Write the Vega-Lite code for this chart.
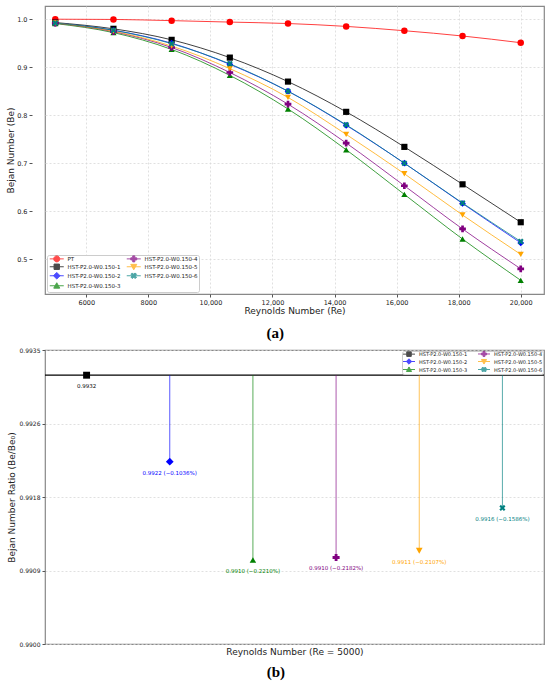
{
  "$schema": "https://vega.github.io/schema/vega-lite/v6.json",
  "background": "white",
  "padding": {"left": 6, "top": 5, "right": 6, "bottom": 0},
  "columns": 1,
  "spacing": 4,
  "datasets": {
    "top": [
      {"series": "PT", "re": 5000, "be": 1.000}, {"series": "PT", "re": 6875, "be": 0.9995}, {"series": "PT", "re": 8750, "be": 0.997}, {"series": "PT", "re": 10625, "be": 0.994}, {"series": "PT", "re": 12500, "be": 0.991}, {"series": "PT", "re": 14375, "be": 0.985}, {"series": "PT", "re": 16250, "be": 0.976}, {"series": "PT", "re": 18125, "be": 0.965}, {"series": "PT", "re": 20000, "be": 0.951},
      {"series": "HST-P2.0-W0.150-1", "re": 5000, "be": 0.993}, {"series": "HST-P2.0-W0.150-1", "re": 6875, "be": 0.980}, {"series": "HST-P2.0-W0.150-1", "re": 8750, "be": 0.957}, {"series": "HST-P2.0-W0.150-1", "re": 10625, "be": 0.920}, {"series": "HST-P2.0-W0.150-1", "re": 12500, "be": 0.870}, {"series": "HST-P2.0-W0.150-1", "re": 14375, "be": 0.807}, {"series": "HST-P2.0-W0.150-1", "re": 16250, "be": 0.734}, {"series": "HST-P2.0-W0.150-1", "re": 18125, "be": 0.656}, {"series": "HST-P2.0-W0.150-1", "re": 20000, "be": 0.577},
      {"series": "HST-P2.0-W0.150-2", "re": 5000, "be": 0.992}, {"series": "HST-P2.0-W0.150-2", "re": 6875, "be": 0.977}, {"series": "HST-P2.0-W0.150-2", "re": 8750, "be": 0.950}, {"series": "HST-P2.0-W0.150-2", "re": 10625, "be": 0.906}, {"series": "HST-P2.0-W0.150-2", "re": 12500, "be": 0.850}, {"series": "HST-P2.0-W0.150-2", "re": 14375, "be": 0.779}, {"series": "HST-P2.0-W0.150-2", "re": 16250, "be": 0.700}, {"series": "HST-P2.0-W0.150-2", "re": 18125, "be": 0.616}, {"series": "HST-P2.0-W0.150-2", "re": 20000, "be": 0.534},
      {"series": "HST-P2.0-W0.150-3", "re": 5000, "be": 0.991}, {"series": "HST-P2.0-W0.150-3", "re": 6875, "be": 0.972}, {"series": "HST-P2.0-W0.150-3", "re": 8750, "be": 0.937}, {"series": "HST-P2.0-W0.150-3", "re": 10625, "be": 0.883}, {"series": "HST-P2.0-W0.150-3", "re": 12500, "be": 0.813}, {"series": "HST-P2.0-W0.150-3", "re": 14375, "be": 0.728}, {"series": "HST-P2.0-W0.150-3", "re": 16250, "be": 0.635}, {"series": "HST-P2.0-W0.150-3", "re": 18125, "be": 0.542}, {"series": "HST-P2.0-W0.150-3", "re": 20000, "be": 0.456},
      {"series": "HST-P2.0-W0.150-4", "re": 5000, "be": 0.992}, {"series": "HST-P2.0-W0.150-4", "re": 6875, "be": 0.974}, {"series": "HST-P2.0-W0.150-4", "re": 8750, "be": 0.941}, {"series": "HST-P2.0-W0.150-4", "re": 10625, "be": 0.889}, {"series": "HST-P2.0-W0.150-4", "re": 12500, "be": 0.823}, {"series": "HST-P2.0-W0.150-4", "re": 14375, "be": 0.742}, {"series": "HST-P2.0-W0.150-4", "re": 16250, "be": 0.653}, {"series": "HST-P2.0-W0.150-4", "re": 18125, "be": 0.563}, {"series": "HST-P2.0-W0.150-4", "re": 20000, "be": 0.480},
      {"series": "HST-P2.0-W0.150-5", "re": 5000, "be": 0.992}, {"series": "HST-P2.0-W0.150-5", "re": 6875, "be": 0.975}, {"series": "HST-P2.0-W0.150-5", "re": 8750, "be": 0.944}, {"series": "HST-P2.0-W0.150-5", "re": 10625, "be": 0.897}, {"series": "HST-P2.0-W0.150-5", "re": 12500, "be": 0.837}, {"series": "HST-P2.0-W0.150-5", "re": 14375, "be": 0.760}, {"series": "HST-P2.0-W0.150-5", "re": 16250, "be": 0.678}, {"series": "HST-P2.0-W0.150-5", "re": 18125, "be": 0.592}, {"series": "HST-P2.0-W0.150-5", "re": 20000, "be": 0.510},
      {"series": "HST-P2.0-W0.150-6", "re": 5000, "be": 0.992}, {"series": "HST-P2.0-W0.150-6", "re": 6875, "be": 0.977}, {"series": "HST-P2.0-W0.150-6", "re": 8750, "be": 0.949}, {"series": "HST-P2.0-W0.150-6", "re": 10625, "be": 0.907}, {"series": "HST-P2.0-W0.150-6", "re": 12500, "be": 0.850}, {"series": "HST-P2.0-W0.150-6", "re": 14375, "be": 0.780}, {"series": "HST-P2.0-W0.150-6", "re": 16250, "be": 0.700}, {"series": "HST-P2.0-W0.150-6", "re": 18125, "be": 0.617}, {"series": "HST-P2.0-W0.150-6", "re": 20000, "be": 0.537}
    ],
    "bot": [
      {"series": "HST-P2.0-W0.150-1", "ratio": 0.99320, "ref": 0.9932, "label": "0.9932"},
      {"series": "HST-P2.0-W0.150-2", "ratio": 0.99217, "ref": 0.9932, "label": "0.9922 (−0.1036%)"},
      {"series": "HST-P2.0-W0.150-3", "ratio": 0.99100, "ref": 0.9932, "label": "0.9910 (−0.2210%)"},
      {"series": "HST-P2.0-W0.150-4", "ratio": 0.99103, "ref": 0.9932, "label": "0.9910 (−0.2182%)"},
      {"series": "HST-P2.0-W0.150-5", "ratio": 0.99111, "ref": 0.9932, "label": "0.9911 (−0.2107%)"},
      {"series": "HST-P2.0-W0.150-6", "ratio": 0.99162, "ref": 0.9932, "label": "0.9916 (−0.1586%)"}
    ]
  },
  "resolve": {
    "scale": {"color": "independent", "shape": "independent", "stroke": "independent", "x": "independent", "y": "independent"},
    "legend": {"color": "independent", "shape": "independent", "stroke": "independent"}
  },
  "concat": [
    {
      "width": 499,
      "height": 288,
      "title": {"text": "(a)", "orient": "bottom", "font": "Liberation Serif", "fontSize": 15, "fontWeight": "bold", "anchor": "middle", "frame": "bounds", "offset": 10, "color": "black"},
      "data": {"name": "top"},
      "encoding": {
        "x": {"field": "re", "type": "quantitative", "scale": {"domain": [4669, 20750], "nice": false, "zero": false},
          "axis": {"title": "Reynolds Number (Re)", "values": [6000, 8000, 10000, 12000, 14000, 16000, 18000, 20000], "labelExpr": "datum.value < 10000 ? format(datum.value, 'd') : format(datum.value, ',')", "labelFontSize": 6.5, "titleFontSize": 9, "titlePadding": 1, "labelPadding": 2, "grid": true}},
        "y": {"field": "be", "type": "quantitative", "scale": {"domain": [0.4275, 1.0275], "nice": false, "zero": false},
          "axis": {"title": "Bejan Number (Be)", "values": [0.5, 0.6, 0.7, 0.8, 0.9, 1.0], "format": ".1f", "labelFontSize": 6.5, "titleFontSize": 9, "titlePadding": 1, "labelPadding": 2, "offset": 13, "grid": true}}
      },
      "layer": [
        {"mark": {"type": "line", "interpolate": "monotone", "strokeWidth": 1, "opacity": 0.75},
         "encoding": {"color": {"field": "series", "type": "nominal", "title": null,
           "scale": {"domain": ["PT", "HST-P2.0-W0.150-1", "HST-P2.0-W0.150-2", "HST-P2.0-W0.150-3", "HST-P2.0-W0.150-4", "HST-P2.0-W0.150-5", "HST-P2.0-W0.150-6"],
                     "range": ["#ff0000", "#000000", "#0000ff", "#008000", "#800080", "#ffa500", "#008080"]},
           "legend": {"title": null, "orient": "bottom-left", "offset": 2, "columns": 2, "labelFontSize": 5.5, "labelFont": "DejaVu Sans", "labelColor": "#222",
             "symbolSize": 16, "symbolOffset": 6, "labelOffset": 8, "rowPadding": -2, "columnPadding": 3, "padding": 1, "symbolOpacity": 1, "symbolStrokeWidth": 1,
             "fillColor": "white", "strokeColor": "#ccc", "cornerRadius": 2}}}},
        {"mark": {"type": "point", "filled": true, "size": 0, "strokeWidth": 1},
         "encoding": {
           "color": {"field": "series", "type": "nominal", "title": null},
           "stroke": {"field": "series", "type": "nominal", "title": null,
             "scale": {"domain": ["PT", "HST-P2.0-W0.150-1", "HST-P2.0-W0.150-2", "HST-P2.0-W0.150-3", "HST-P2.0-W0.150-4", "HST-P2.0-W0.150-5", "HST-P2.0-W0.150-6"],
                       "range": ["#ff0000", "#000000", "#0000ff", "#008000", "#800080", "#ffa500", "#008080"]}},
           "shape": {"field": "series", "type": "nominal", "title": null,
             "scale": {"domain": ["PT", "HST-P2.0-W0.150-1", "HST-P2.0-W0.150-2", "HST-P2.0-W0.150-3", "HST-P2.0-W0.150-4", "HST-P2.0-W0.150-5", "HST-P2.0-W0.150-6"],
                       "range": ["M-3.5,0H3.5M-1.5,0A1.5,1.5,0,1,0,1.5,0A1.5,1.5,0,1,0,-1.5,0Z", "M-3.5,0H3.5M-1.35,-1.35H1.35V1.35H-1.35Z", "M-3.5,0H3.5M0,-1.65L1.65,0L0,1.65L-1.65,0Z", "M-3.5,0H3.5M0,-1.5L1.5,1.2H-1.5Z", "M-3.5,0H3.5M-0.52,-1.5H0.52V-0.52H1.5V0.52H0.52V1.5H-0.52V0.52H-1.5V-0.52H-0.52Z", "M-3.5,0H3.5M0,1.5L1.5,-1.2H-1.5Z", "M-3.5,0H3.5M0.7,-1.41L1.41,-0.7L0.7,0L1.41,0.7L0.7,1.41L0,0.7L-0.7,1.41L-1.41,0.7L-0.7,0L-1.41,-0.7L-0.7,-1.41L0,-0.7Z"]}}
         }},
        {"transform": [{"filter": {"field": "series", "equal": "PT"}}], "mark": {"type": "point", "filled": true, "opacity": 1, "size": 42, "shape": "circle", "color": "#ff0000"}},
        {"transform": [{"filter": {"field": "series", "equal": "HST-P2.0-W0.150-1"}}], "mark": {"type": "point", "filled": true, "opacity": 1, "size": 38, "shape": "square", "color": "#000000"}},
        {"transform": [{"filter": {"field": "series", "equal": "HST-P2.0-W0.150-2"}}], "mark": {"type": "point", "filled": true, "opacity": 1, "size": 45, "shape": "diamond", "color": "#0000ff"}},
        {"transform": [{"filter": {"field": "series", "equal": "HST-P2.0-W0.150-3"}}], "mark": {"type": "point", "filled": true, "opacity": 1, "size": 38, "shape": "triangle-up", "color": "#008000"}},
        {"transform": [{"filter": {"field": "series", "equal": "HST-P2.0-W0.150-4"}}], "mark": {"type": "point", "filled": true, "opacity": 1, "size": 45, "shape": "cross", "color": "#800080"}},
        {"transform": [{"filter": {"field": "series", "equal": "HST-P2.0-W0.150-5"}}], "mark": {"type": "point", "filled": true, "opacity": 1, "size": 38, "shape": "triangle-down", "color": "#ffa500"}},
        {"transform": [{"filter": {"field": "series", "equal": "HST-P2.0-W0.150-6"}}], "mark": {"type": "point", "filled": true, "opacity": 1, "size": 40, "shape": "M0.47,-0.94L0.94,-0.47L0.47,0L0.94,0.47L0.47,0.94L0,0.47L-0.47,0.94L-0.94,0.47L-0.47,0L-0.94,-0.47L-0.47,-0.94L0,-0.47Z", "color": "#008080"}}
      ]
    },
    {
      "width": 499,
      "height": 294,
      "title": {"text": "(b)", "orient": "bottom", "font": "Liberation Serif", "fontSize": 15, "fontWeight": "bold", "anchor": "middle", "frame": "bounds", "offset": 9, "color": "black"},
      "layer": [
        {"data": {"values": [{"ref": 0.9932}]},
         "mark": {"type": "rule", "color": "black", "strokeWidth": 1.2},
         "encoding": {"y": {"field": "ref", "type": "quantitative", "title": "Bejan Number Ratio (Be/Be₀)",
           "scale": {"domain": [0.99, 0.9935], "nice": false, "zero": false},
           "axis": {"values": [0.99, 0.990875, 0.99175, 0.992625, 0.9935], "labelExpr": "format(datum.value + 1e-9, '.4f')", "labelFontSize": 6, "titleFontSize": 9, "titlePadding": 3, "labelPadding": 2, "grid": true}}}},
        {"data": {"name": "bot"},
         "mark": {"type": "rule", "strokeWidth": 1, "opacity": 0.65},
         "encoding": {
           "x": {"field": "series", "type": "nominal", "title": "Reynolds Number (Re = 5000)",
             "scale": {"type": "point", "padding": 0.5, "domain": ["HST-P2.0-W0.150-1", "HST-P2.0-W0.150-2", "HST-P2.0-W0.150-3", "HST-P2.0-W0.150-4", "HST-P2.0-W0.150-5", "HST-P2.0-W0.150-6"]},
             "axis": {"labels": false, "ticks": false, "domain": false, "grid": false, "titleFontSize": 9, "titlePadding": 3}},
           "y": {"field": "ratio", "type": "quantitative", "title": "Bejan Number Ratio (Be/Be₀)"},
           "y2": {"field": "ref"},
           "color": {"field": "series", "type": "nominal", "title": null,
             "scale": {"domain": ["HST-P2.0-W0.150-1", "HST-P2.0-W0.150-2", "HST-P2.0-W0.150-3", "HST-P2.0-W0.150-4", "HST-P2.0-W0.150-5", "HST-P2.0-W0.150-6"],
                       "range": ["#000000", "#0000ff", "#008000", "#800080", "#ffa500", "#008080"]},
             "legend": {"title": null, "orient": "top-right", "offset": 1, "columns": 2, "labelFontSize": 5, "labelFont": "DejaVu Sans", "labelColor": "#222",
               "symbolSize": 9, "symbolOffset": 4.5, "labelOffset": 7.5, "rowPadding": -4, "columnPadding": 8, "padding": 0, "symbolOpacity": 1, "symbolStrokeWidth": 1,
               "fillColor": "white", "strokeColor": "#ccc", "cornerRadius": 2}}
         }},
        {"data": {"name": "bot"},
         "mark": {"type": "point", "filled": true, "size": 0, "strokeWidth": 1},
         "encoding": {
           "x": {"field": "series", "type": "nominal"},
           "y": {"field": "ratio", "type": "quantitative", "title": "Bejan Number Ratio (Be/Be₀)"},
           "color": {"field": "series", "type": "nominal", "title": null},
           "stroke": {"field": "series", "type": "nominal", "title": null,
             "scale": {"domain": ["HST-P2.0-W0.150-1", "HST-P2.0-W0.150-2", "HST-P2.0-W0.150-3", "HST-P2.0-W0.150-4", "HST-P2.0-W0.150-5", "HST-P2.0-W0.150-6"],
                       "range": ["#000000", "#0000ff", "#008000", "#800080", "#ffa500", "#008080"]}},
           "shape": {"field": "series", "type": "nominal", "title": null,
             "scale": {"domain": ["HST-P2.0-W0.150-1", "HST-P2.0-W0.150-2", "HST-P2.0-W0.150-3", "HST-P2.0-W0.150-4", "HST-P2.0-W0.150-5", "HST-P2.0-W0.150-6"],
                       "range": ["M-4,0H4M-1.5,-1.5H1.5V1.5H-1.5Z", "M-4,0H4M0,-1.8L1.8,0L0,1.8L-1.8,0Z", "M-4,0H4M0,-1.7L1.7,1.35H-1.7Z", "M-4,0H4M-0.6,-1.7H0.6V-0.6H1.7V0.6H0.6V1.7H-0.6V0.6H-1.7V-0.6H-0.6Z", "M-4,0H4M0,1.7L1.7,-1.35H-1.7Z", "M-4,0H4M0.8,-1.6L1.6,-0.8L0.8,0L1.6,0.8L0.8,1.6L0,0.8L-0.8,1.6L-1.6,0.8L-0.8,0L-1.6,-0.8L-0.8,-1.6L0,-0.8Z"]}}
         }},
        {"data": {"name": "bot"}, "transform": [{"filter": {"field": "series", "equal": "HST-P2.0-W0.150-1"}}], "mark": {"type": "point", "filled": true, "opacity": 1, "size": 48, "shape": "square", "color": "#000000"},
         "encoding": {"x": {"field": "series", "type": "nominal"}, "y": {"field": "ratio", "type": "quantitative", "title": "Bejan Number Ratio (Be/Be₀)"}}},
        {"data": {"name": "bot"}, "transform": [{"filter": {"field": "series", "equal": "HST-P2.0-W0.150-2"}}], "mark": {"type": "point", "filled": true, "opacity": 1, "size": 60, "shape": "diamond", "color": "#0000ff"},
         "encoding": {"x": {"field": "series", "type": "nominal"}, "y": {"field": "ratio", "type": "quantitative", "title": "Bejan Number Ratio (Be/Be₀)"}}},
        {"data": {"name": "bot"}, "transform": [{"filter": {"field": "series", "equal": "HST-P2.0-W0.150-3"}}], "mark": {"type": "point", "filled": true, "opacity": 1, "size": 42, "shape": "triangle-up", "color": "#008000"},
         "encoding": {"x": {"field": "series", "type": "nominal"}, "y": {"field": "ratio", "type": "quantitative", "title": "Bejan Number Ratio (Be/Be₀)"}}},
        {"data": {"name": "bot"}, "transform": [{"filter": {"field": "series", "equal": "HST-P2.0-W0.150-4"}}], "mark": {"type": "point", "filled": true, "opacity": 1, "size": 50, "shape": "cross", "color": "#800080"},
         "encoding": {"x": {"field": "series", "type": "nominal"}, "y": {"field": "ratio", "type": "quantitative", "title": "Bejan Number Ratio (Be/Be₀)"}}},
        {"data": {"name": "bot"}, "transform": [{"filter": {"field": "series", "equal": "HST-P2.0-W0.150-5"}}], "mark": {"type": "point", "filled": true, "opacity": 1, "size": 45, "shape": "triangle-down", "color": "#ffa500"},
         "encoding": {"x": {"field": "series", "type": "nominal"}, "y": {"field": "ratio", "type": "quantitative", "title": "Bejan Number Ratio (Be/Be₀)"}}},
        {"data": {"name": "bot"}, "transform": [{"filter": {"field": "series", "equal": "HST-P2.0-W0.150-6"}}], "mark": {"type": "point", "filled": true, "opacity": 1, "size": 42, "shape": "M0.47,-0.94L0.94,-0.47L0.47,0L0.94,0.47L0.47,0.94L0,0.47L-0.47,0.94L-0.94,0.47L-0.47,0L-0.94,-0.47L-0.47,-0.94L0,-0.47Z", "color": "#008080"},
         "encoding": {"x": {"field": "series", "type": "nominal"}, "y": {"field": "ratio", "type": "quantitative", "title": "Bejan Number Ratio (Be/Be₀)"}}},
        {"data": {"name": "bot"},
         "mark": {"type": "text", "dy": 11, "fontSize": 5.5, "font": "DejaVu Sans"},
         "encoding": {
           "x": {"field": "series", "type": "nominal"},
           "y": {"field": "ratio", "type": "quantitative", "title": "Bejan Number Ratio (Be/Be₀)"},
           "text": {"field": "label"},
           "color": {"field": "series", "type": "nominal", "title": null}
         }}
      ]
    }
  ],
  "config": {
    "font": "DejaVu Sans",
    "view": {"stroke": "#888", "strokeWidth": 1.2},
    "style": {"guide-label": {"fontSize": 5, "font": "DejaVu Sans"}},
    "legend": {"labelFontSize": 5, "symbolSize": 16, "symbolStrokeWidth": 1},
    "axis": {"labelFont": "DejaVu Sans", "titleFont": "DejaVu Sans", "titleFontWeight": "normal", "labelColor": "#222", "titleColor": "#222", "tickColor": "#555", "tickSize": 3, "domain": false, "gridColor": "#d8d8d8", "gridDash": [2, 2], "gridWidth": 0.8}
  }
}
